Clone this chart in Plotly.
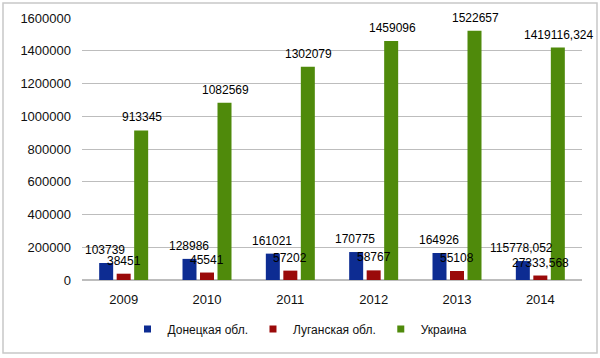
import plotly.graph_objects as go

years = ["2009", "2010", "2011", "2012", "2013", "2014"]
donetsk = [103739, 128986, 161021, 170775, 164926, 115778.052]
lugansk = [38451, 45541, 57202, 58767, 55108, 27333.568]
ukraine = [913345, 1082569, 1302079, 1459096, 1522657, 1419116.324]
series_names = ["Донецкая обл.", "Луганская обл.", "Украина"]
colors = ["#0d2c92", "#9a0a0a", "#4f8a0b"]
y_ticks = [0, 200000, 400000, 600000, 800000, 1000000, 1200000, 1400000, 1600000]


def fmt(v):
    if float(v).is_integer():
        return str(int(v))
    return ("%.3f" % v).replace(".", ",")


fig = go.Figure()
all_series = [donetsk, lugansk, ukraine]
for name, vals, col in zip(series_names, all_series, colors):
    fig.add_trace(go.Bar(x=years, y=vals, name=name, marker_color=col,
                         marker_line_width=0, showlegend=False))
# small square legend keys
for name, col in zip(series_names, colors):
    fig.add_trace(go.Scatter(x=[None], y=[None], mode="markers", name=name,
                             marker=dict(symbol="square", size=7, color=col)))

offsets = [-18.5, 0, 18.5]
annotations = []
for vals, dx in zip(all_series, offsets):
    for i, v in enumerate(vals):
        annotations.append(dict(x=i, y=v, xref="x", yref="y", text=fmt(v),
                                showarrow=False, xshift=dx, yshift=4,
                                yanchor="bottom", xanchor="center",
                                font=dict(size=12, color="#000000")))

fig.update_layout(
    width=600, height=358,
    margin=dict(l=82, r=18, t=18, b=78),
    paper_bgcolor="white", plot_bgcolor="white",
    font=dict(family="Liberation Sans, Arial, sans-serif", size=12, color="#111111"),
    barmode="group", bargap=0.37, bargroupgap=0.2,
    showlegend=True,
    legend=dict(orientation="h", x=0.436, xanchor="center", y=-0.187, yanchor="middle",
                font=dict(size=12, color="#111111"), itemwidth=30,
                traceorder="normal"),
    annotations=annotations,
    shapes=[dict(type="rect", xref="paper", yref="paper", x0=-0.158, x1=1.03,
                 y0=-0.279, y1=1.057, line=dict(color="#c8c8c8", width=1.5))],
)
fig.update_yaxes(range=[0, 1600000], tickvals=y_ticks, ticktext=[str(t) for t in y_ticks],
                 showgrid=True, gridcolor="#bdbdbd", gridwidth=1, zeroline=True,
                 zerolinecolor="#bdbdbd", showline=False, ticks="", ticklabelstandoff=10,
                 tickfont=dict(size=13))
fig.update_xaxes(type="category", range=[-0.5, 5.5], showline=False, ticks="",
                 ticklabelstandoff=10, tickfont=dict(size=13))

fig.write_html("out.html", config={"displayModeBar": False},
               post_script="document.body.style.margin='0px';")
